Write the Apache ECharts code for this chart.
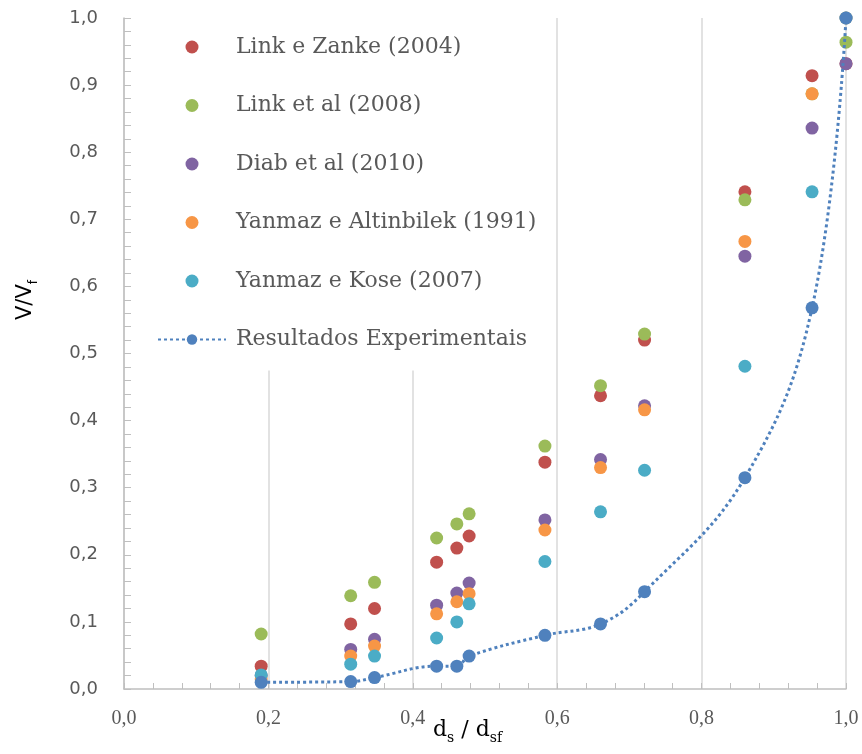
<!DOCTYPE html>
<html>
<head>
<meta charset="utf-8">
<script src="https://cdn.jsdelivr.net/npm/echarts@6/dist/echarts.min.js"></script>
<style>
  html, body { margin: 0; padding: 0; background: #fff; }
  #chart { width: 862px; height: 754px; }
</style>
</head>
<body>
<div id="chart"></div>
<script>
// d_s / d_sf
var ratios = [0.19, 0.314, 0.347, 0.433, 0.461, 0.478, 0.583, 0.660, 0.721, 0.860, 0.953, 1.0];

// V / V_f for each method
var linkZanke = [0.034, 0.097, 0.120, 0.189, 0.210, 0.228, 0.338, 0.437, 0.520, 0.741, 0.914, 0.932];
var linkEtAl = [0.082, 0.139, 0.159, 0.225, 0.246, 0.261, 0.362, 0.452, 0.529, 0.729, 0.887, 0.964];
var diabEtAl = [0.020, 0.059, 0.074, 0.125, 0.143, 0.158, 0.252, 0.342, 0.422, 0.645, 0.836, 0.932];
var yanmazAltinbilek = [0.015, 0.049, 0.064, 0.112, 0.130, 0.142, 0.237, 0.330, 0.416, 0.667, 0.887, 1.0];
var yanmazKose = [0.021, 0.037, 0.049, 0.076, 0.100, 0.127, 0.190, 0.264, 0.326, 0.481, 0.741, 1.0];
var experimental = [0.010, 0.011, 0.017, 0.034, 0.034, 0.049, 0.080, 0.097, 0.145, 0.315, 0.568, 1.0];

var names = [
  'Link e Zanke (2004)',
  'Link et al (2008)',
  'Diab et al (2010)',
  'Yanmaz e Altinbilek (1991)',
  'Yanmaz e Kose (2007)',
  'Resultados Experimentais'
];
var colors = ['#C0504D', '#9BBB59', '#8064A2', '#F79646', '#4BACC6', '#4F81BD'];

function pairs(ys) {
  return ratios.map(function (x, i) { return [x, ys[i]]; });
}
function comma(v) {
  return v.toFixed(1).replace('.', ',');
}

var chart = echarts.init(document.getElementById('chart'));

var scatterSets = [linkZanke, linkEtAl, diabEtAl, yanmazAltinbilek, yanmazKose];
var series = scatterSets.map(function (ys, i) {
  return {
    name: names[i],
    type: 'scatter',
    symbol: 'circle',
    symbolSize: 13,
    itemStyle: { color: colors[i], opacity: 1 },
    data: pairs(ys)
  };
});
series.push({
  name: names[5],
  type: 'line',
  smooth: 0.4,
  symbol: 'circle',
  symbolSize: 13,
  showSymbol: true,
  itemStyle: { color: colors[5] },
  lineStyle: { color: colors[5], width: 3, type: [3, 3] },
  data: pairs(experimental),
  z: 3
});

var option = {
  backgroundColor: '#ffffff',
  animation: false,
  grid: { left: 124, right: 16, top: 18, bottom: 65 },
  legend: {
    orient: 'vertical',
    left: 150,
    top: 18,
    padding: [18, 8, 20, 7],
    backgroundColor: '#ffffff',
    itemWidth: 68,
    itemHeight: 13,
    itemGap: 36.5,
    data: names,
    textStyle: {
      fontFamily: 'DejaVu Serif',
      fontSize: 22,
      lineHeight: 22,
      color: '#595959',
      padding: [0, 0, 0, 5]
    }
  },
  xAxis: {
    type: 'value',
    min: 0,
    max: 1,
    interval: 0.2,
    axisLine: { show: true, lineStyle: { color: '#bfbfbf', width: 1.5 } },
    axisTick: { show: true, inside: true, length: 6, lineStyle: { color: '#bfbfbf' } },
    minorTick: { show: true, splitNumber: 5, length: 6, lineStyle: { color: '#bfbfbf' } },
    splitLine: { show: true, lineStyle: { color: '#d9d9d9', width: 1.5 } },
    axisLabel: {
      margin: 20,
      fontFamily: 'Liberation Serif',
      fontSize: 20,
      color: '#595959',
      formatter: comma
    }
  },
  yAxis: {
    type: 'value',
    min: 0,
    max: 1,
    interval: 0.1,
    axisLine: { show: true, lineStyle: { color: '#bfbfbf', width: 1.5 } },
    axisTick: { show: true, inside: true, length: 7, lineStyle: { color: '#bfbfbf' } },
    minorTick: { show: true, splitNumber: 5, length: 7, lineStyle: { color: '#bfbfbf' } },
    splitLine: { show: false },
    axisLabel: {
      margin: 26,
      fontFamily: 'DejaVu Sans',
      fontSize: 18,
      color: '#595959',
      formatter: comma
    }
  },
  graphic: [
    {
      type: 'text',
      x: 26,
      y: 300,
      rotation: Math.PI / 2,
      style: {
        text: '{v|V/V}{s|f}',
        align: 'center',
        verticalAlign: 'middle',
        rich: {
          v: { fontFamily: 'DejaVu Sans', fontSize: 21, lineHeight: 28, color: '#595959', verticalAlign: 'middle' },
          s: { fontFamily: 'DejaVu Sans', fontSize: 12, lineHeight: 12, color: '#595959', verticalAlign: 'bottom' }
        }
      }
    },
    {
      type: 'text',
      left: 433,
      top: 719,
      style: {
        text: '{d|d}{s|s}{d| / d}{s|sf}',
        rich: {
          d: { fontFamily: 'DejaVu Serif', fontSize: 22, lineHeight: 30, color: '#595959', verticalAlign: 'middle' },
          s: { fontFamily: 'DejaVu Serif', fontSize: 14, lineHeight: 14, color: '#595959', verticalAlign: 'bottom' }
        }
      }
    }
  ],
  series: series
};

chart.setOption(option);
</script>
</body>
</html>
